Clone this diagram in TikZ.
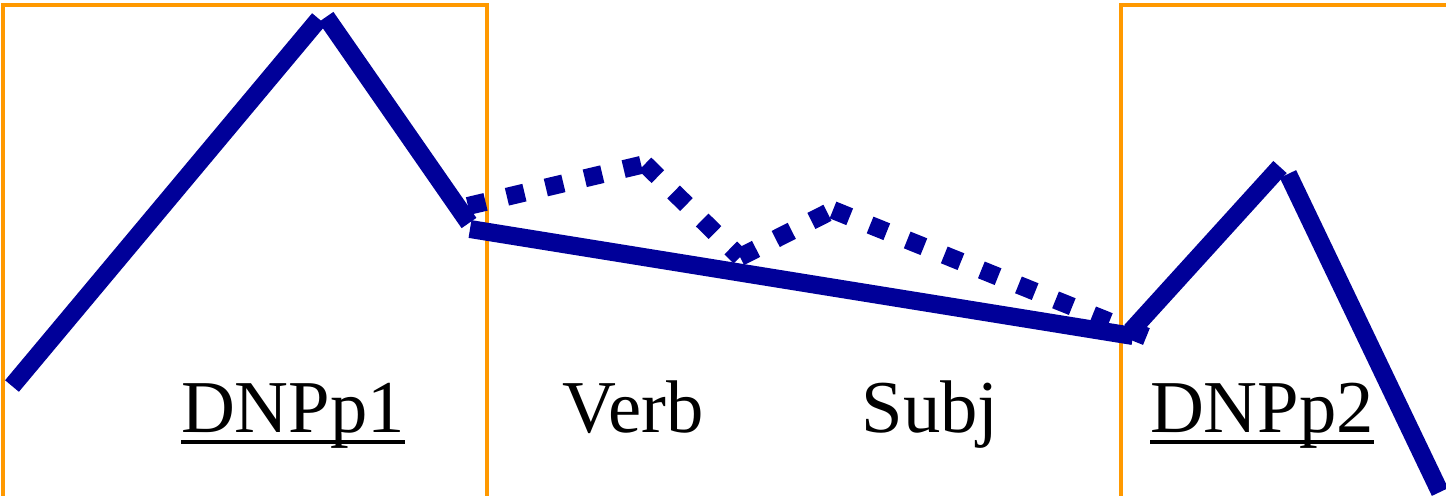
\documentclass[tikz,border=0pt]{standalone}
\usepackage{fontspec}
\setmainfont{Liberation Serif}
\definecolor{pitchblue}{RGB}{0,0,153}
\definecolor{boxorange}{RGB}{255,153,0}
\newcommand{\phraseul}[1]{\setbox0\hbox{#1}\rlap{\rule[-0.155em]{\wd0}{0.045em}}\box0}

\begin{document}
\begin{tikzpicture}[x=0.5pt, y=-0.5pt,
  pitch/.style={line width=9pt, pitchblue},
  pitchdot/.style={line width=9pt, pitchblue, dash pattern=on 9pt off 11pt},
  phrasebox/.style={line width=2pt, boxorange},
  word/.style={inner sep=0pt, anchor=base, font=\fontsize{37.3}{44}\selectfont}]
  \useasboundingbox (0,0) rectangle (1446,495);
  \clip (0,0) rectangle (1446,495);
  \draw[phrasebox] (3,520) -- (3,5) -- (487,5) -- (487,520);
  \draw[phrasebox] (1121,520) -- (1121,5) -- (1480,5);
  \coordinate (a0) at (12,386); \coordinate (a1) at (319,19); \coordinate (a2) at (326,17); \coordinate (a3) at (469,223);
  \coordinate (b0) at (470,229); \coordinate (b1) at (1133,336);
  \coordinate (c0) at (1131,331); \coordinate (c1) at (1280,167); \coordinate (d0) at (1288,174); \coordinate (d1) at (1440,492);
  \coordinate (p0) at (468,206); \coordinate (p1) at (645,164); \coordinate (p2) at (740,257); \coordinate (p3) at (833,210); \coordinate (p4) at (1150,338);
  \draw[pitch] (a0) -- (a1); \draw[pitch] (a2) -- (a3);
  \draw[pitch] (b0) -- (b1);
  \draw[pitch] (c0) -- (c1); \draw[pitch] (d0) -- (d1);
  \draw[pitchdot] (p0) -- (p1); \draw[pitchdot] (p1) -- (p2);
  \draw[pitchdot] (p2) -- (p3); \draw[pitchdot] (p3) -- (p4);
  \node[word] (dnpa) at (293,432) {\phraseul{DNPp1}};
  \node[word] (verb) at (633,432) {Verb};
  \node[word] (subj) at (930,432) {Subj};
  \node[word] (dnpb) at (1262,432) {\phraseul{DNPp2}};
\end{tikzpicture}
\end{document}
